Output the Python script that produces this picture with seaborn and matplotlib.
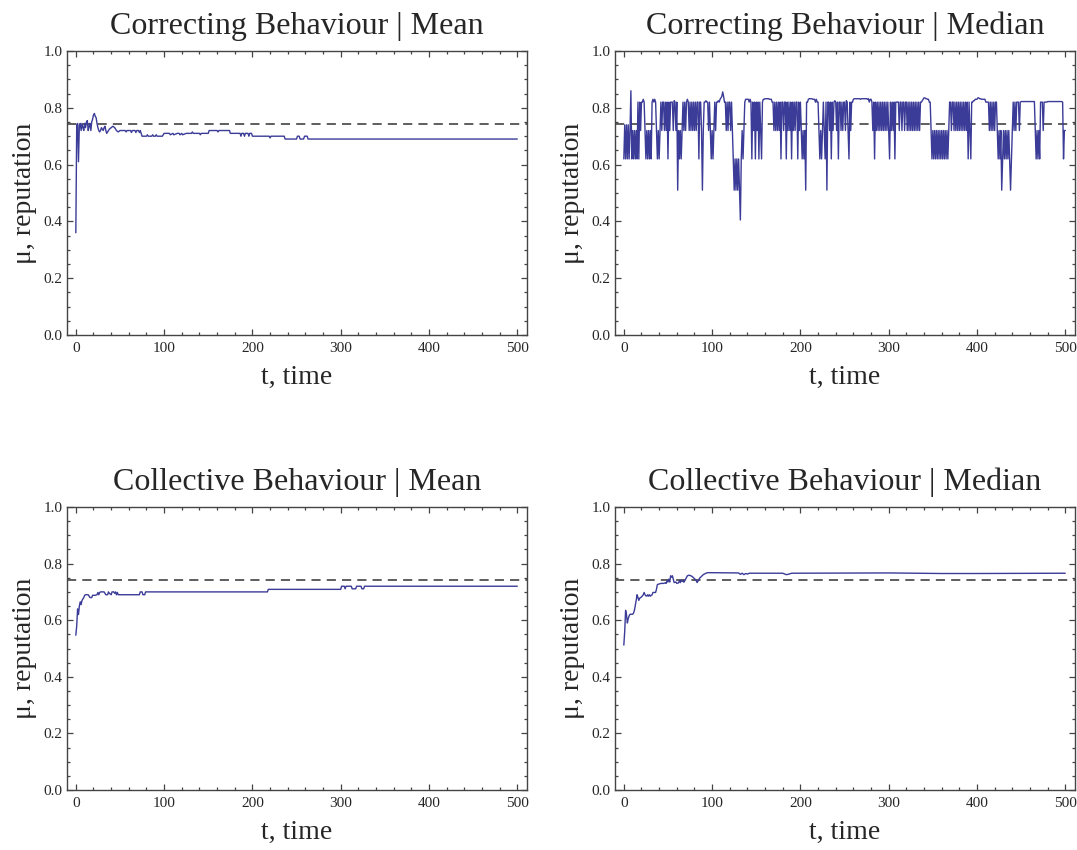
import numpy as np
import pandas as pd
import matplotlib
matplotlib.use("Agg")
import matplotlib.pyplot as plt
from matplotlib.ticker import MultipleLocator, FormatStrFormatter
import seaborn as sns

# ---------------- data ----------------
titles = ["Correcting Behaviour | Mean", "Correcting Behaviour | Median",
          "Collective Behaviour | Mean", "Collective Behaviour | Median"]
x_label = "t, time"
y_label = "\u03bc, reputation"
reference_level = 0.743
x_ticks = [0, 100, 200, 300, 400, 500]
y_ticks = [0.0, 0.2, 0.4, 0.6, 0.8, 1.0]

# Correcting Behaviour | Mean  (t, value)
corr_mean_t = [0, 1, 2, 3, 4, 5, 6, 7, 8, 9, 10, 11, 12, 13, 14, 15, 16, 17, 18, 19,
               20, 21, 22, 23, 24, 25, 26, 27, 28, 29, 30, 31, 32, 33, 34, 35, 36, 38, 40, 42,
               44, 46, 48, 50, 56, 57, 58, 62, 63, 64, 67, 68, 69, 71, 72, 73, 75, 80, 81, 82,
               86, 87, 88, 90, 91, 92, 98, 99, 100, 101, 103, 106, 107, 110, 111, 115, 117, 118, 120, 121,
               125, 131, 132, 133, 140, 141, 142, 150, 151, 152, 160, 161, 162, 170, 174, 175, 186, 187, 188, 190,
               191, 192, 195, 196, 197, 199, 200, 219, 220, 221, 236, 237, 250, 251, 253, 254, 258, 259, 262, 263,
               264, 265, 500]
corr_mean_v = [0.36, 0.74, 0.745, 0.61, 0.74, 0.745, 0.72, 0.745, 0.73, 0.72, 0.745, 0.73, 0.75, 0.755, 0.72, 0.735, 0.745, 0.72, 0.75, 0.76,
               0.775, 0.78, 0.77, 0.765, 0.745, 0.73, 0.72, 0.715, 0.72, 0.73, 0.725, 0.72, 0.73, 0.735, 0.72, 0.71, 0.715, 0.725, 0.73, 0.735,
               0.73, 0.72, 0.715, 0.72, 0.72, 0.715, 0.72, 0.72, 0.713, 0.72, 0.72, 0.713, 0.72, 0.72, 0.713, 0.72, 0.70, 0.70, 0.705, 0.70,
               0.70, 0.705, 0.70, 0.70, 0.705, 0.70, 0.70, 0.705, 0.71, 0.71, 0.71, 0.71, 0.705, 0.71, 0.705, 0.71, 0.71, 0.705, 0.71, 0.705,
               0.71, 0.71, 0.715, 0.71, 0.71, 0.705, 0.71, 0.71, 0.72, 0.72, 0.72, 0.715, 0.72, 0.72, 0.72, 0.71, 0.71, 0.70, 0.71, 0.71,
               0.70, 0.71, 0.71, 0.70, 0.71, 0.71, 0.70, 0.70, 0.694, 0.70, 0.70, 0.69, 0.69, 0.70, 0.70, 0.69, 0.69, 0.70, 0.70, 0.69,
               0.69, 0.69, 0.69]

# Correcting Behaviour | Median  (value at t = 0 .. 500)
corr_median_v = [
    .62, .74, .62, .74, .62, .74, .62, .72, .86, .62,
    .72, .62, .72, .62, .72, .62, .82, .62, .82, .72,
    .82, .82, .83, .82, .72, .62, .72, .62, .72, .62,
    .72, .62, .82, .83, .82, .83, .82, .72, .62, .72,
    .62, .72, .82, .72, .82, .82, .72, .82, .72, .82,
    .62, .82, .72, .82, .82, .82, .72, .825, .82, .72,
    .82, .51, .72, .62, .72, .62, .72, .82, .72, .82,
    .72, .82, .83, .82, .72, .82, .72, .82, .72, .82,
    .72, .82, .72, .82, .82, .62, .82, .82, .72, .51,
    .72, .82, .82, .825, .82, .82, .72, .82, .72, .62,
    .72, .62, .72, .82, .72, .82, .82, .825, .82, .83,
    .835, .84, .856, .84, .82, .82, .72, .82, .72, .82,
    .82, .72, .82, .72, .62, .51, .62, .51, .62, .51,
    .62, .51, .405, .62, .72, .62, .72, .82, .83, .83,
    .83, .83, .82, .83, .82, .62, .82, .72, .82, .62,
    .82, .72, .82, .62, .82, .72, .62, .82, .83, .83,
    .832, .832, .832, .832, .832, .83, .83, .83, .82, .82,
    .72, .82, .72, .82, .72, .82, .72, .82, .62, .82,
    .82, .72, .82, .82, .62, .82, .72, .82, .72, .82,
    .62, .82, .72, .82, .72, .82, .82, .62, .82, .72,
    .82, .72, .62, .72, .62, .72, .51, .82, .82, .83,
    .832, .832, .832, .832, .83, .83, .83, .82, .83, .82,
    .82, .72, .62, .72, .62, .72, .82, .72, .62, .82,
    .51, .82, .82, .72, .82, .62, .82, .72, .82, .825,
    .82, .72, .82, .62, .82, .82, .72, .82, .72, .82,
    .82, .72, .825, .82, .72, .62, .82, .72, .82, .82,
    .83, .832, .832, .832, .832, .832, .832, .832, .83, .832,
    .832, .832, .832, .832, .832, .832, .83, .832, .82, .83,
    .83, .82, .72, .82, .62, .82, .72, .82, .72, .82,
    .72, .82, .72, .82, .72, .82, .72, .82, .72, .82,
    .72, .62, .82, .72, .82, .72, .82, .62, .82, .82,
    .82, .82, .72, .82, .82, .72, .82, .82, .72, .82,
    .82, .72, .82, .72, .82, .72, .82, .72, .82, .72,
    .82, .72, .82, .72, .82, .72, .82, .82, .825, .83,
    .835, .835, .832, .832, .83, .83, .82, .82, .72, .62,
    .72, .62, .72, .62, .72, .62, .72, .62, .72, .62,
    .72, .62, .72, .62, .72, .62, .72, .62, .72, .82,
    .82, .72, .82, .82, .72, .82, .72, .82, .72, .82,
    .72, .82, .72, .82, .72, .82, .72, .82, .72, .82,
    .62, .82, .72, .62, .82, .82, .825, .825, .83, .83,
    .83, .835, .835, .832, .832, .83, .83, .83, .83, .83,
    .82, .82, .82, .82, .72, .82, .72, .82, .72, .82,
    .72, .82, .82, .72, .62, .72, .62, .72, .51, .62,
    .72, .62, .72, .62, .72, .62, .72, .62, .51, .62,
    .72, .82, .72, .82, .72, .82, .82, .82, .72, .82,
    .822, .822, .822, .822, .822, .822, .822, .822, .822, .822,
    .822, .822, .822, .822, .822, .822, .72, .62, .72, .62,
    .72, .62, .82, .82, .82, .72, .82, .82, .82, .82,
    .822, .822, .822, .822, .822, .822, .822, .822, .822, .822,
    .822, .822, .822, .822, .822, .822, .822, .82, .62, .72,
    .72]
corr_median_t = list(range(len(corr_median_v)))

# Collective Behaviour | Mean  (t, value)
coll_mean_t = [0, 1, 2, 3, 4, 5, 6, 7, 8, 9, 10, 11, 14, 15, 16, 18, 19, 22, 24, 25,
               26, 27, 28, 32, 33, 34, 36, 37, 38, 40, 41, 43, 44, 45, 46, 47, 48, 72, 73, 75,
               76, 78, 79, 217, 218, 300, 301, 304, 305, 306, 312, 313, 317, 318, 323, 324, 326, 327, 500]
coll_mean_v = [0.547, 0.58, 0.64, 0.62, 0.65, 0.665, 0.655, 0.67, 0.675, 0.68, 0.688, 0.69, 0.69, 0.685, 0.68, 0.68, 0.688, 0.688, 0.69, 0.698,
               0.69, 0.698, 0.70, 0.70, 0.695, 0.69, 0.69, 0.70, 0.695, 0.69, 0.70, 0.70, 0.695, 0.70, 0.69, 0.698, 0.69, 0.69, 0.70, 0.70,
               0.69, 0.69, 0.70, 0.70, 0.709, 0.709, 0.72, 0.72, 0.711, 0.72, 0.72, 0.711, 0.711, 0.72, 0.72, 0.711, 0.711, 0.72, 0.72]

# Collective Behaviour | Median  (t, value)
coll_median_t = [0, 1, 2, 3, 4, 5, 6, 7, 10, 11, 12, 14, 15, 16, 17, 18, 20, 22, 23, 24,
                 25, 26, 27, 28, 29, 30, 32, 33, 36, 37, 38, 40, 42, 45, 47, 48, 49, 50, 51, 52,
                 53, 54, 55, 56, 57, 59, 60, 62, 63, 64, 65, 66, 67, 68, 70, 72, 74, 76, 78, 80,
                 82, 83, 84, 86, 88, 90, 93, 95, 130, 132, 134, 136, 138, 140, 142, 180, 184, 186, 190, 300,
                 360, 400, 500]
coll_median_v = [0.512, 0.56, 0.635, 0.62, 0.59, 0.606, 0.615, 0.621, 0.621, 0.625, 0.635, 0.67, 0.69, 0.68, 0.67, 0.678, 0.682, 0.69, 0.698, 0.69,
                 0.686, 0.685, 0.69, 0.685, 0.69, 0.685, 0.69, 0.698, 0.698, 0.71, 0.726, 0.728, 0.73, 0.73, 0.732, 0.73, 0.74, 0.735, 0.745, 0.735,
                 0.757, 0.752, 0.757, 0.745, 0.733, 0.735, 0.73, 0.732, 0.74, 0.733, 0.741, 0.737, 0.74, 0.734, 0.745, 0.757, 0.759, 0.757, 0.753, 0.747,
                 0.74, 0.733, 0.738, 0.749, 0.755, 0.761, 0.766, 0.768, 0.767, 0.762, 0.766, 0.761, 0.765, 0.763, 0.766, 0.766, 0.761, 0.762, 0.766, 0.767,
                 0.765, 0.765, 0.766]

series = [(corr_mean_t, corr_mean_v), (corr_median_t, corr_median_v),
          (coll_mean_t, coll_mean_v), (coll_median_t, coll_median_v)]

# ---------------- style ----------------
sns.set_style("ticks")
plt.rcParams["font.family"] = ["Liberation Serif", "DejaVu Serif"]

W, H = 1077, 850
fig = plt.figure(figsize=(W / 100, H / 100), dpi=100)

line_color = "#3b3b98"
frame_color = "#444444"

# axes boxes in pixels: (left, top, right, bottom)
boxes = [(67, 51, 527, 335), (615, 51, 1075, 335),
         (67, 507, 527, 790), (615, 507, 1075, 790)]

for (l, t, r, b), title, (xs, ys) in zip(boxes, titles, series):
    ax = fig.add_axes([l / W, 1 - b / H, (r - l) / W, (b - t) / H])
    df = pd.DataFrame({"t": xs, "v": ys})
    sns.lineplot(data=df, x="t", y="v", ax=ax, color=line_color,
                 linewidth=1.0, sort=False, estimator=None)
    ax.axhline(reference_level, color="#333333", linewidth=1.1,
               linestyle=(0, (6, 4)), zorder=1)
    ax.set_xlim(-10, 511)
    ax.set_ylim(0, 1)
    ax.set_xticks(x_ticks)
    ax.set_yticks(y_ticks)
    ax.xaxis.set_minor_locator(MultipleLocator(20))
    ax.yaxis.set_minor_locator(MultipleLocator(0.05))
    ax.yaxis.set_major_formatter(FormatStrFormatter("%.1f"))
    ax.tick_params(which="both", direction="in", top=True, right=True,
                   color=frame_color, labelsize=11, width=0.9)
    ax.tick_params(which="major", length=4.5)
    ax.tick_params(axis="x", which="major", pad=5)
    ax.tick_params(axis="y", which="major", pad=3)
    ax.tick_params(which="minor", length=2.5)
    for sp in ax.spines.values():
        sp.set_color(frame_color)
        sp.set_linewidth(1.0)
    ax.set_title(title, fontsize=23, pad=12)
    ax.set_xlabel(x_label, fontsize=20, labelpad=7)
    ax.set_ylabel(y_label, fontsize=20, labelpad=5)

fig.savefig("out.png", dpi=100)
